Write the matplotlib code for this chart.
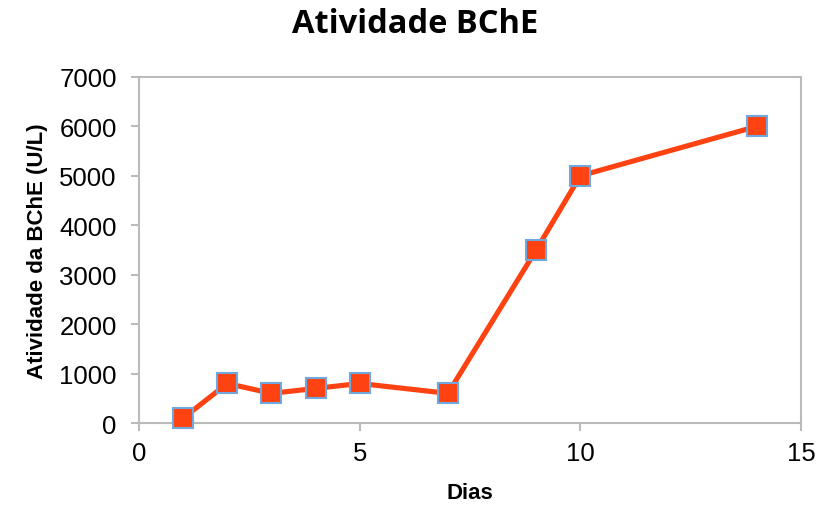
import matplotlib
matplotlib.use("Agg")
import matplotlib.pyplot as plt

# Data
dias = [1, 2, 3, 4, 5, 7, 9, 10, 14]
atividade = [100, 800, 600, 700, 800, 600, 3500, 5000, 6000]

plt.rcParams['font.family'] = ['Liberation Sans', 'DejaVu Sans']

fig = plt.figure(figsize=(8.3, 5.06), dpi=100)
ax = fig.add_axes([0.1675, 0.162, 0.7975, 0.684])

ax.plot(dias, atividade, color='#FF4211', linewidth=3.7, marker='s',
        markersize=14.5, markerfacecolor='#FF4211', markeredgecolor='#6FA8DC',
        markeredgewidth=1.5, clip_on=False, zorder=3)

ax.set_xlim(0, 15)
ax.set_ylim(0, 7000)
ax.set_xticks([0, 5, 10, 15])
ax.set_yticks(range(0, 7001, 1000))
ax.tick_params(labelsize=18.5, length=6, width=1.5, color='#BBBBBB', direction='out')
ax.tick_params(axis='y', pad=10)
ax.tick_params(axis='x', pad=7)

for s in ax.spines.values():
    s.set_color('#BBBBBB')
    s.set_linewidth(1.5)

ax.set_xlabel("Dias", fontsize=16, fontweight='bold', labelpad=12)
ax.set_ylabel("Atividade da BChE (U/L)", fontsize=16, fontweight='bold', labelpad=8)
fig.text(0.5, 1 - 33 / 506, "Atividade BChE", fontsize=23.5, fontweight='bold',
         family=['Open Sans', 'DejaVu Sans'], ha='center', va='baseline')

fig.savefig("out.png", dpi=100)
